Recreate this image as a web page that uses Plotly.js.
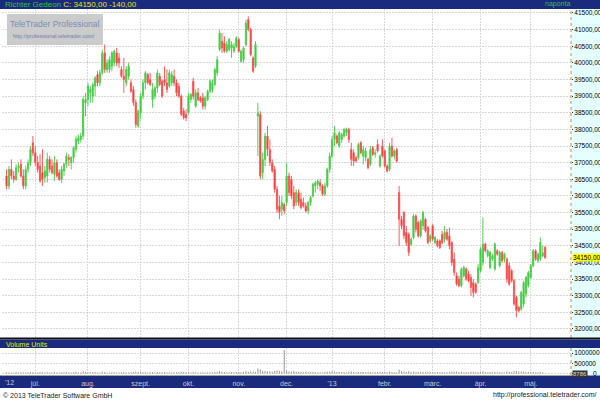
<!DOCTYPE html>
<html><head><meta charset="utf-8">
<script src="https://cdn.plot.ly/plotly-3.0.1.min.js"></script>
<style>html,body{margin:0;padding:0;background:#fff;}#chart{width:600px;height:400px;}</style>
</head><body><div id="chart"></div>
<script>
// ---- data ----
const firstDay = '2012-06-14';
const lastDay = '2013-05-10';
const holidays = ['2012-08-20','2012-10-22','2012-10-23','2012-11-01','2012-11-02','2012-12-25','2012-12-26','2013-01-01','2013-03-15','2013-04-01','2013-05-01'];

// [open, high, low, close] per trading day, month by month
const jun12 = [[36600,36800,36200,36300],[36300,36900,36200,36800],[36800,37100,36500,36600],[36600,36750,36400,36500],[36500,36950,36450,36850],[36850,37000,36700,36900],[36950,37100,36550,36600],[36600,36800,36200,36300],[36300,36900,36200,36800],[36800,37100,36700,37000],[37000,37500,36900,37400],[37600,37800,37200,37300]];
const jul12 = [[37300,37500,36900,37000],[37000,37200,36700,36800],[36900,37250,36400,36450],[36700,37400,36300,36500],[36550,36900,36400,36750],[36600,37300,36400,37100],[37100,37200,36700,36800],[36900,37100,36650,36700],[36650,37200,36450,37000],[37000,37100,36550,36600],[36700,36800,36450,36500],[36500,36900,36400,36800],[36750,37000,36600,36950],[36950,37300,36850,37200],[37150,37250,36900,37100],[37000,37200,36800,37150],[37150,37500,37000,37450],[37400,37800,37300,37700],[37650,37850,37550,37750],[37700,37900,37600,37800],[37800,39000,37700,38900],[38800,39100,38400,38900]];
const aug12 = [[38900,39400,38700,39300],[39100,39300,38800,39200],[39000,39400,38800,39350],[39300,39600,39000,39550],[39650,39750,39300,39400],[39400,39800,39300,39700],[39700,40400,39650,40300],[40300,40550,39700,39800],[39800,40100,39700,40000],[39800,40200,39700,40100],[39900,40350,39750,40300],[40000,40400,39900,40350],[40300,40450,39900,40000],[40150,40300,39850,40000],[39800,39900,39550,39600],[39600,40150,39100,39500],[39400,39900,39300,39800],[39600,40000,39500,39900],[39400,39500,39100,39150],[39200,39300,38700,38800],[38800,38900,38050,38150],[38100,38600,38050,38550]];
const sep12 = [[38500,39100,38300,39000],[39000,39500,38900,39400],[39400,39750,39200,39700],[39650,39700,39350,39400],[39500,39700,39300,39350],[38900,39400,38650,39200],[39000,39300,38900,39250],[39250,39800,39100,39700],[39600,39700,39300,39350],[39450,39500,38950,39000],[39500,39900,39300,39400],[39400,39800,39100,39200],[39300,39800,39250,39700],[39400,39750,39300,39650],[39600,39800,39300,39400],[39400,39500,39000,39100],[39300,39400,38950,39000],[39000,39050,38400,38450],[38550,38650,38300,38350],[38450,38600,38250,38350]];
const oct12 = [[38500,39100,38450,39000],[38900,39100,38800,39050],[39450,39550,38900,39000],[38700,39200,38650,39100],[39100,39250,38850,38900],[38950,39000,38800,38850],[38950,39100,38600,38700],[38700,39000,38600,38950],[38900,39200,38850,39150],[39150,39500,39100,39450],[39200,39500,39100,39400],[39350,39850,39300,39800],[39700,40200,39600,40100],[40400,41000,40350,40900],[40650,40900,40300,40450],[40600,40800,40300,40350],[40350,40650,40300,40550],[40400,40750,40350,40700],[40450,40650,40150,40550],[40350,40600,40300,40500],[40500,40800,40450,40750]];
const nov12 = [[40700,40750,40300,40350],[40050,40400,40000,40350],[40100,40500,40000,40450],[40550,41300,40500,41200],[41300,41400,40950,41000],[41000,41050,40200,40250],[40150,40200,39700,39750],[39900,40650,39850,40550],[38400,38800,37200,38500],[38450,38550,36500,36600],[36700,37300,36500,37100],[37100,37900,36900,37800],[37800,38100,37200,37400],[37400,37700,36900,37000],[37000,37100,36700,36750],[36800,36900,36100,36200],[36200,36300,35500,35600],[35700,36000,35300,35500],[35600,36000,35400,35800],[35750,35800,35450,35550]];
const dec12 = [[35800,37000,35700,36600],[36600,36700,36000,36100],[36500,36600,35900,36000],[36100,36300,35600,35700],[35800,36200,35700,36100],[36100,36200,35700,35800],[35900,36100,35600,35650],[35800,35950,35650,35700],[35700,35800,35500,35550],[35550,35850,35450,35800],[35800,36000,35700,35950],[36000,36400,35950,36350],[36300,36450,36100,36400],[36350,36500,36200,36450],[36400,36500,36150,36300],[36300,36350,36000,36050],[36050,36400,36000,36300],[36300,36850,36250,36800],[36800,37300,36700,37200]];
const jan13 = [[37200,37800,37150,37700],[37700,38100,37500,37900],[37800,37850,37550,37600],[37500,37950,37450,37900],[37700,37900,37600,37850],[37800,38050,37750,38000],[37900,38050,37800,38000],[38000,38050,37600,37700],[37400,37600,36900,37100],[37300,37400,36900,37050],[37150,37200,37000,37050],[37150,37600,37100,37550],[37600,37650,37250,37300],[37200,37500,36950,37400],[37150,37450,37050,37350],[37100,37150,36800,36850],[36950,37500,36900,37400],[37450,37500,37200,37250],[37250,37400,37150,37300],[37550,37700,37300,37350],[36900,37250,36850,37200],[37500,37700,37150,37200]];
const feb13 = [[37350,37400,36850,36900],[36900,36950,36700,36750],[36800,37600,36750,37500],[37500,37750,37150,37200],[37200,37400,37100,37350],[37400,37450,37000,37050],[36100,36300,34500,35300],[35300,35400,35000,35100],[35500,35550,34700,34800],[34900,35100,34500,34600],[34850,34900,34200,34300],[34550,34750,34500,34700],[34750,35450,34700,35400],[35400,35450,34900,35000],[35200,35250,34750,34800],[34800,35300,34750,35250],[35100,35550,35000,35500],[35300,35350,34900,34950],[35050,35100,34550,34600],[34650,34850,34600,34800]];
const mar13 = [[35100,35150,34650,34700],[34600,34800,34550,34750],[34650,34700,34450,34500],[34650,34700,34400,34450],[34850,34950,34550,34600],[34700,35100,34600,34900],[34900,35000,34650,34700],[34800,35050,34400,34500],[34600,34650,33900,34000],[34100,34300,33600,33700],[33600,33700,33300,33350],[33500,33600,33250,33300],[33300,33850,33250,33800],[33600,33900,33550,33850],[33800,33850,33450,33500],[33650,33750,33400,33450],[33550,33650,33000,33250],[33400,33500,32950,33100],[33350,33400,33050,33100],[33400,33950,33350,33850]];
const apr13 = [[33750,34450,33700,34400],[34000,35350,33900,34550],[34550,34600,34300,34350],[34200,34400,34150,34350],[33850,34350,33800,34300],[34100,34250,34050,34200],[33800,34600,33750,34550],[34350,34400,34200,34250],[33900,34350,33850,34300],[34300,34350,34000,34050],[34100,34300,34000,34250],[34100,34150,33400,33500],[33900,34000,33300,33350],[33750,33800,33400,33450],[33450,33500,32700,32750],[32950,33000,32350,32550],[32650,32700,32500,32550],[32600,33150,32550,33100],[32750,33450,32650,33400],[33050,33600,32950,33550],[33300,33750,33250,33700]];
const may13 = [[33550,33950,33500,33900],[33900,34400,33850,34350],[34350,34400,34050,34100],[34050,34300,34000,34250],[34100,34750,34050,34600],[34200,34500,34150,34290],[34450,34500,34100,34150]];

const volJun12 = [62000,48000,55000,41000,70000,52000,66000,58000,45000,61000,83000,57000];
const volJul12 = [64000,49000,72000,58000,44000,61000,53000,47000,68000,51000,39000,56000,60000,74000,49000,52000,63000,81000,57000,46000,112000,88000];
const volAug12 = [76000,59000,64000,70000,52000,48000,91000,73000,55000,50000,61000,58000,47000,53000,66000,72000,49000,45000,63000,78000,95000,70000];
const volSep12 = [80000,66000,59000,54000,62000,75000,51000,68000,57000,64000,72000,60000,55000,49000,58000,63000,61000,84000,70000,65000];
const volOct12 = [69000,55000,73000,58000,52000,49000,61000,54000,57000,66000,60000,74000,82000,118000,90000,71000,63000,59000,77000,62000,68000];
const volNov12 = [72000,65000,70000,104000,86000,93000,88000,79000,246000,210000,132000,118000,96000,101000,87000,123000,158000,134000,112000,1150000];
const volDec12 = [142000,98000,91000,105000,84000,76000,88000,69000,81000,74000,63000,79000,58000,52000,66000,48000,71000,83000,97000];
const volJan13 = [110000,92000,78000,85000,70000,73000,66000,81000,95000,74000,62000,79000,68000,71000,64000,83000,76000,59000,61000,72000,88000,69000];
const volFeb13 = [74000,66000,80000,71000,58000,63000,185000,112000,97000,88000,104000,79000,92000,73000,68000,81000,75000,70000,86000,64000];
const volMar13 = [77000,62000,69000,58000,72000,66000,61000,74000,93000,88000,96000,79000,84000,67000,71000,65000,89000,82000,70000,76000];
const volApr13 = [83000,101000,72000,64000,69000,58000,77000,61000,66000,63000,55000,92000,86000,74000,108000,121000,87000,95000,90000,78000,72000];
const volMay13 = [68000,81000,65000,59000,76000,62000,8786];

const monthTickDates = ['2012-07-02','2012-08-01','2012-09-03','2012-10-01','2012-11-05','2012-12-03','2013-01-02','2013-02-01','2013-03-01','2013-04-02','2013-05-02'];
const monthTickLabels = ['júl.','aug.','szept.','okt.','nov.','dec.',"'13",'febr.','márc.','ápr.','máj.'];
const priceTicks = [32000,32500,33000,33500,34000,34500,35000,35500,36000,36500,37000,37500,38000,38500,39000,39500,40000,40500,41000,41500];
const volumeTicks = [0,500000,1000000];
const volumeTickText = ['', '500000', '1000000'];
const titleName = 'Richter Gedeon';
const titleQuote = 'C: 34150,00 -140,00';
const lastClose = 34150;
const lastVolume = 8786;

// ---- build ----
function tradingDays(start, end, skip) {
  const out = [];
  const d = new Date(start + 'T00:00:00Z'), e = new Date(end + 'T00:00:00Z');
  while (d <= e) {
    const wd = d.getUTCDay(), s = d.toISOString().slice(0, 10);
    if (wd !== 0 && wd !== 6 && skip.indexOf(s) < 0) out.push(s);
    d.setUTCDate(d.getUTCDate() + 1);
  }
  return out;
}
const rows = [].concat(jun12, jul12, aug12, sep12, oct12, nov12, dec12, jan13, feb13, mar13, apr13, may13);
const volume = [].concat(volJun12, volJul12, volAug12, volSep12, volOct12, volNov12, volDec12, volJan13, volFeb13, volMar13, volApr13, volMay13);
const dates = tradingDays(firstDay, lastDay, holidays);
const n = Math.min(rows.length, dates.length, volume.length);
const x = dates.slice(0, n);
const open = rows.slice(0, n).map(r => r[0]);
const high = rows.slice(0, n).map(r => r[1]);
const low = rows.slice(0, n).map(r => r[2]);
const close = rows.slice(0, n).map(r => r[3]);

const NAVY = '#1a2b7d';
const CYAN = '#e4ffff';
const FONT = 'Liberation Sans, Arial, sans-serif';
const PX = v => v / 600, PY = v => 1 - v / 400;

const traces = [
  {type: 'candlestick', x: x, open: open, high: high, low: low, close: close,
   xaxis: 'x', yaxis: 'y', whiskerwidth: 0,
   increasing: {line: {color: '#52d052', width: 1}, fillcolor: '#1fbf1f'},
   decreasing: {line: {color: '#ff5a5a', width: 1}, fillcolor: '#ee0000'},
   hoverinfo: 'skip'},
  {type: 'bar', x: x.slice(), y: volume.slice(0, n), xaxis: 'x', yaxis: 'y2',
   marker: {color: '#9a9a9a', line: {width: 0}}, width: 0.45, hoverinfo: 'skip'}
];

const rangeX = [-1.9, n - 1 + 10.8];
const layout = {
  width: 600, height: 400, margin: {l: 0, r: 0, t: 0, b: 0},
  paper_bgcolor: '#ffffff', plot_bgcolor: '#ffffff', showlegend: false,
  separators: ', ', hovermode: false,
  font: {family: FONT, size: 7, color: '#000'},
  xaxis: {type: 'category', domain: [PX(2), PX(571)], range: rangeX, anchor: 'y2',
    tickmode: 'array', tickvals: monthTickDates, ticktext: monthTickLabels,
    showgrid: true, gridcolor: '#d9d9d9', griddash: '2px,1px', gridwidth: 1,
    ticks: '', showline: true, linecolor: '#a8a890', linewidth: 1, zeroline: false,
    tickfont: {family: FONT, size: 7, color: '#c8c8d0'}, ticklabelstandoff: 2,
    rangeslider: {visible: false}, fixedrange: true},
  yaxis: {domain: [PY(338), PY(9)], range: [31729, 41620], side: 'right', anchor: 'x',
    tickmode: 'array', tickvals: priceTicks, tickformat: '.2f',
    showgrid: true, gridcolor: '#d9d9d9', griddash: '2px,1px', zeroline: false,
    ticks: 'outside', ticklen: 1, tickcolor: '#333', showline: false,
    tickfont: {family: FONT, size: 6.5, color: '#000'}, ticklabelstandoff: 0, fixedrange: true},
  yaxis3: {overlaying: 'y', side: 'left', anchor: 'x', range: [31729, 41620],
    showgrid: false, zeroline: false, showticklabels: false, ticks: 'outside', ticklen: 2,
    tickcolor: '#222', tick0: 41500, dtick: 500 / 3, fixedrange: true},
  yaxis2: {domain: [PY(375), PY(348)], range: [-73000, 1244000], side: 'right', anchor: 'x',
    tickmode: 'array', tickvals: volumeTicks, ticktext: volumeTickText,
    showgrid: true, gridcolor: '#d9d9d9', griddash: '2px,1px', zeroline: false,
    ticks: 'outside', ticklen: 1, tickcolor: '#333',
    tickfont: {family: FONT, size: 6.5, color: '#000'}, ticklabelstandoff: 0, fixedrange: true},
  yaxis4: {overlaying: 'y2', side: 'left', anchor: 'x', range: [-73000, 1244000],
    showgrid: false, zeroline: false, showticklabels: false, ticks: 'outside', ticklen: 2,
    tickcolor: '#222', dtick: 200000, fixedrange: true},
  shapes: [
    {type: 'rect', xref: 'paper', yref: 'paper', x0: 0, x1: 1, y0: PY(9), y1: 1, fillcolor: NAVY, line: {width: 0}, layer: 'below'},
    {type: 'rect', xref: 'paper', yref: 'paper', x0: PX(571), x1: 1, y0: PY(338), y1: PY(9), fillcolor: CYAN, line: {width: 0}, layer: 'below'},
    {type: 'line', xref: 'paper', yref: 'paper', x0: PX(571), x1: PX(571), y0: PY(338), y1: PY(9), line: {color: '#b09a50', width: 1, dash: 'dot'}},
    {type: 'rect', xref: 'paper', yref: 'paper', x0: 0, x1: 1, y0: PY(339.5), y1: PY(337.5), fillcolor: '#111', line: {width: 0}},
    {type: 'rect', xref: 'paper', yref: 'paper', x0: 0, x1: 1, y0: PY(348), y1: PY(339.5), fillcolor: NAVY, line: {width: 0}},
    {type: 'rect', xref: 'paper', yref: 'paper', x0: PX(571), x1: 1, y0: PY(375), y1: PY(348), fillcolor: CYAN, line: {width: 0}, layer: 'below'},
    {type: 'line', xref: 'paper', yref: 'paper', x0: PX(571), x1: PX(571), y0: PY(375), y1: PY(348), line: {color: '#b09a50', width: 1, dash: 'dot'}},
    {type: 'rect', xref: 'paper', yref: 'paper', x0: 0, x1: 1, y0: PY(388), y1: PY(375.5), fillcolor: NAVY, line: {width: 0}, layer: 'below'},
    {type: 'rect', xref: 'paper', yref: 'paper', x0: PX(7), x1: PX(103), y0: PY(45), y1: PY(14), fillcolor: '#cbcbcb', line: {width: 0}, layer: 'above'}
  ],
  annotations: [
    {xref: 'paper', yref: 'paper', x: PX(3), y: PY(4.5), xanchor: 'left', yanchor: 'middle', showarrow: false,
     text: '<span style="color:#2ec82e">' + titleName + '</span> <span style="color:#e8e800">' + titleQuote + '</span>',
     font: {family: FONT, size: 8}},
    {xref: 'paper', yref: 'paper', x: PX(557), y: PY(4.5), xanchor: 'center', yanchor: 'middle', showarrow: false,
     text: 'naponta', font: {family: FONT, size: 7, color: '#2ec82e'}},
    {xref: 'paper', yref: 'paper', x: PX(55), y: PY(24), xanchor: 'center', yanchor: 'middle', showarrow: false,
     text: 'TeleTrader Professional', font: {family: FONT, size: 8.5, color: '#7d8cb6'}},
    {xref: 'paper', yref: 'paper', x: PX(97), y: PY(36), xanchor: 'right', yanchor: 'middle', showarrow: false,
     text: 'http://professional.teletrader.com/', font: {family: FONT, size: 5.5, color: '#6f80b0'}},
    {xref: 'paper', yref: 'paper', x: PX(4), y: PY(344), xanchor: 'left', yanchor: 'middle', showarrow: false,
     text: 'Volume Units', font: {family: FONT, size: 7, color: '#e8e800'}},
    {xref: 'paper', yref: 'paper', x: PX(3), y: PY(382), xanchor: 'left', yanchor: 'middle', showarrow: false,
     text: "'12", font: {family: FONT, size: 7, color: '#c8c8d0'}},
    {xref: 'paper', yref: 'paper', x: PX(1), y: PY(395), xanchor: 'left', yanchor: 'middle', showarrow: false,
     text: '© 2013 TeleTrader Software GmbH', font: {family: FONT, size: 7, color: '#222'}},
    {xref: 'paper', yref: 'paper', x: PX(599), y: PY(395), xanchor: 'right', yanchor: 'middle', showarrow: false,
     text: 'http://professional.teletrader.com/', font: {family: FONT, size: 7, color: '#222'}},
    {xref: 'paper', yref: 'y', x: PX(572), y: lastClose, xanchor: 'left', yanchor: 'middle', showarrow: false,
     text: '34150,00', bgcolor: '#ffff00', borderpad: 0, font: {family: FONT, size: 6.5, color: '#000'}},
    {xref: 'paper', yref: 'y2', x: PX(572), y: 0, xanchor: 'left', yanchor: 'middle', showarrow: false,
     text: String(lastVolume), bgcolor: '#333333', borderpad: 0, font: {family: FONT, size: 6, color: '#dddddd'}},
    {xref: 'paper', yref: 'y2', x: PX(599), y: 0, xanchor: 'right', yanchor: 'middle', showarrow: false,
     text: '0', font: {family: FONT, size: 6.5, color: '#000'}}
  ]
};

Plotly.newPlot('chart', traces, layout, {staticPlot: true, displayModeBar: false});
</script></body></html>
